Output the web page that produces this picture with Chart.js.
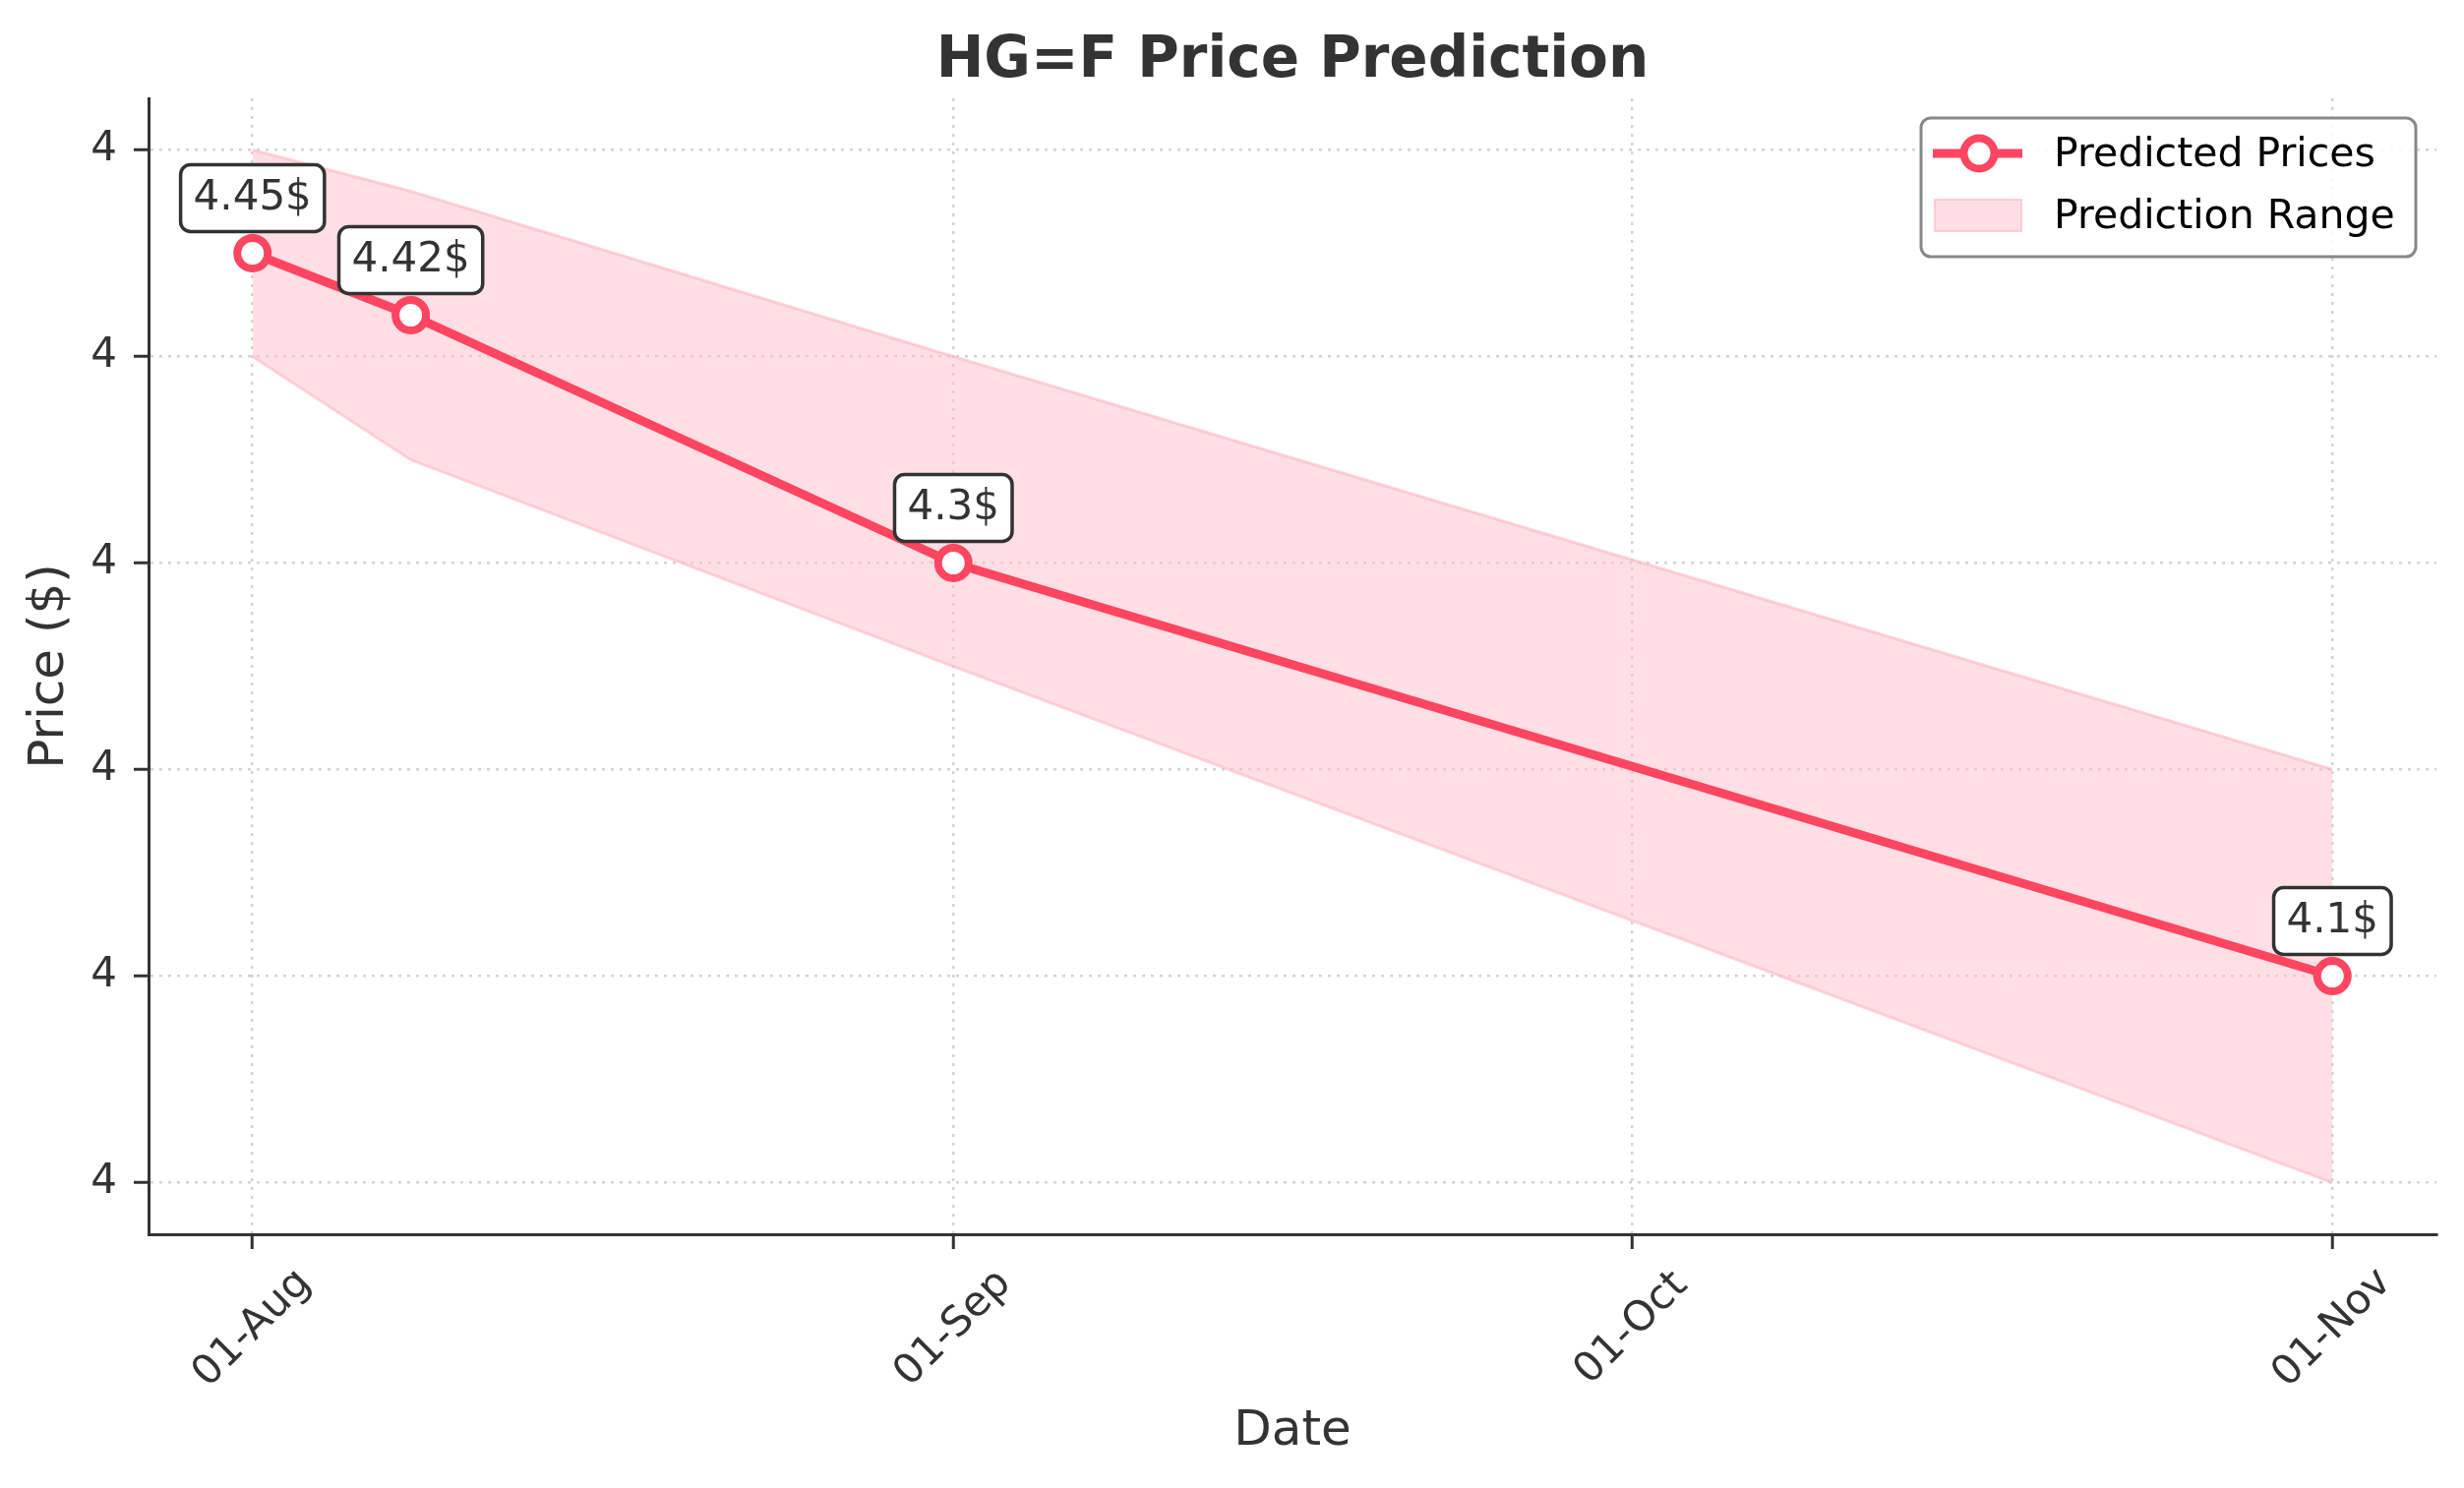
<!DOCTYPE html>
<html>
<head>
<meta charset="utf-8">
<title>HG=F Price Prediction</title>
<script src="https://cdn.jsdelivr.net/npm/chart.js@4.4.1/dist/chart.umd.min.js"></script>
<style>
  html, body { margin: 0; padding: 0; background: #fff; }
  canvas { display: block; }
</style>
</head>
<body>
<canvas id="chart" width="2505" height="1513" style="width:2505px;height:1513px"></canvas>
<script>
// values
const dates = ['2024-08-01', '2024-08-08', '2024-09-01', '2024-11-01'];
const predicted = [4.45, 4.42, 4.30, 4.10];
const upper = [4.50, 4.48, 4.40, 4.20];
const lower = [4.40, 4.35, 4.25, 4.00];
const xTickDates = ['2024-08-01', '2024-09-01', '2024-10-01', '2024-11-01'];
const yTicks = [4.0, 4.1, 4.2, 4.3, 4.4, 4.5];

const MONTHS = ['Jan', 'Feb', 'Mar', 'Apr', 'May', 'Jun', 'Jul', 'Aug', 'Sep', 'Oct', 'Nov', 'Dec'];
const DAY = 86400000;
const toDay = (s) => {
  const [y, m, d] = s.split('-').map(Number);
  return Date.UTC(y, m - 1, d) / DAY;
};
const dayLabel = (v) => {
  const dt = new Date(v * DAY);
  return String(dt.getUTCDate()).padStart(2, '0') + '-' + MONTHS[dt.getUTCMonth()];
};

const xs = dates.map(toDay);
const xSpan = xs[xs.length - 1] - xs[0];
const yMin = Math.min(...lower);
const yMax = Math.max(...upper);
const ySpan = yMax - yMin;

const LINE = '#ff4560';
const FONT = "'DejaVu Sans', sans-serif";
const TEXT = '#333333';
const GRID = 'rgba(175,175,175,0.55)';

const points = (vals) => vals.map((v, i) => ({ x: xs[i], y: v }));

// title, rotated x labels, value boxes and legend, matplotlib style
const decorations = {
  id: 'decorations',
  afterDraw: (chart) => {
    const { ctx, chartArea, scales } = chart;
    ctx.save();

    // title
    ctx.fillStyle = TEXT;
    ctx.font = `bold 58px ${FONT}`;
    ctx.textAlign = 'center';
    ctx.textBaseline = 'alphabetic';
    ctx.fillText('HG=F Price Prediction', (chartArea.left + chartArea.right) / 2, 78);

    // x tick labels, rotated 45 degrees and centred on the tick
    ctx.font = `42px ${FONT}`;
    ctx.textBaseline = 'middle';
    xTickDates.forEach((d) => {
      const px = scales.x.getPixelForValue(toDay(d));
      ctx.save();
      ctx.translate(px, chartArea.bottom + 96);
      ctx.rotate(-Math.PI / 4);
      ctx.fillText(dayLabel(toDay(d)), 0, 0);
      ctx.restore();
    });

    // value boxes above each predicted point
    ctx.font = `42px ${FONT}`;
    predicted.forEach((v, i) => {
      const px = scales.x.getPixelForValue(xs[i]);
      const py = scales.y.getPixelForValue(v);
      const label = `${+v.toFixed(2)}$`;
      const w = ctx.measureText(label).width + 26;
      const h = 68;
      const cy = py - 56;
      ctx.beginPath();
      ctx.roundRect(px - w / 2, cy - h / 2, w, h, 10);
      ctx.fillStyle = '#ffffff';
      ctx.fill();
      ctx.lineWidth = 3.5;
      ctx.strokeStyle = TEXT;
      ctx.stroke();
      ctx.fillStyle = TEXT;
      ctx.fillText(label, px, cy + 1);
    });

    // legend box
    const lx = chartArea.right - 21 - 503;
    const ly = chartArea.top + 20;
    ctx.beginPath();
    ctx.roundRect(lx, ly, 503, 141, 10);
    ctx.fillStyle = 'rgba(255,255,255,0.85)';
    ctx.fill();
    ctx.lineWidth = 3;
    ctx.strokeStyle = '#888888';
    ctx.stroke();

    const row1 = ly + 36;
    const row2 = ly + 99;
    ctx.beginPath();
    ctx.moveTo(lx + 12, row1);
    ctx.lineTo(lx + 103, row1);
    ctx.lineWidth = 9;
    ctx.strokeStyle = LINE;
    ctx.stroke();
    ctx.beginPath();
    ctx.arc(lx + 59, row1, 15.5, 0, Math.PI * 2);
    ctx.fillStyle = '#ffffff';
    ctx.fill();
    ctx.lineWidth = 8;
    ctx.stroke();

    ctx.fillStyle = 'rgba(255,192,203,0.5)';
    ctx.fillRect(lx + 14, row2 - 16, 88, 32);
    ctx.lineWidth = 2;
    ctx.strokeStyle = 'rgba(255,182,193,0.6)';
    ctx.strokeRect(lx + 14, row2 - 16, 88, 32);

    ctx.fillStyle = '#000000';
    ctx.font = `41px ${FONT}`;
    ctx.textAlign = 'left';
    ctx.fillText('Predicted Prices', lx + 135, row1 + 2);
    ctx.fillText('Prediction Range', lx + 135, row2 + 2);

    ctx.restore();
  }
};

new Chart(document.getElementById('chart'), {
  type: 'line',
  data: {
    datasets: [
      {
        label: 'Predicted Prices',
        data: points(predicted),
        borderColor: LINE,
        borderWidth: 9,
        pointRadius: 15.5,
        pointBorderWidth: 8,
        pointBackgroundColor: '#ffffff',
        pointBorderColor: LINE,
        tension: 0,
        fill: false
      },
      {
        label: 'Prediction Range',
        data: points(upper),
        borderColor: 'rgba(255,182,193,0.6)',
        borderWidth: 3,
        backgroundColor: 'rgba(255,192,203,0.5)',
        pointRadius: 0,
        tension: 0,
        fill: '+1'
      },
      {
        label: 'lower',
        data: points(lower),
        borderColor: 'rgba(255,182,193,0.6)',
        borderWidth: 3,
        pointRadius: 0,
        tension: 0,
        fill: false
      }
    ]
  },
  options: {
    responsive: false,
    animation: false,
    devicePixelRatio: 1,
    events: [],
    layout: {
      padding: { top: 100, right: 28, bottom: 0, left: 0 }
    },
    plugins: {
      legend: { display: false },
      title: { display: false },
      tooltip: { enabled: false }
    },
    scales: {
      x: {
        type: 'linear',
        min: xs[0] - xSpan * 0.05,
        max: xs[xs.length - 1] + xSpan * 0.05,
        afterBuildTicks: (scale) => {
          scale.ticks = xTickDates.map(d => ({ value: toDay(d) }));
        },
        afterFit: (scale) => { scale.height = 258; },
        ticks: { display: false },
        grid: {
          color: GRID,
          lineWidth: 2.5,
          tickLength: 15,
          tickColor: TEXT,
          tickWidth: 3,
          tickBorderDash: []
        },
        border: { display: true, color: TEXT, width: 3, dash: [3, 6] },
        title: {
          display: true,
          text: 'Date',
          color: TEXT,
          font: { family: FONT, size: 50 },
          padding: { top: 0, bottom: 27 }
        }
      },
      y: {
        type: 'linear',
        min: yMin - ySpan * 0.05,
        max: yMax + ySpan * 0.05,
        afterBuildTicks: (scale) => {
          scale.ticks = yTicks.map(v => ({ value: v }));
        },
        afterFit: (scale) => { scale.width = 151; },
        ticks: {
          color: TEXT,
          padding: 17,
          font: { family: FONT, size: 42 },
          callback: (v) => String(Math.trunc(v))
        },
        grid: {
          color: GRID,
          lineWidth: 2.5,
          tickLength: 15,
          tickColor: TEXT,
          tickWidth: 3,
          tickBorderDash: []
        },
        border: { display: true, color: TEXT, width: 3, dash: [3, 6] },
        title: {
          display: true,
          text: 'Price ($)',
          color: TEXT,
          font: { family: FONT, size: 50 },
          padding: { top: 21, bottom: 0 }
        }
      }
    }
  },
  plugins: [decorations]
});
</script>
</body>
</html>
